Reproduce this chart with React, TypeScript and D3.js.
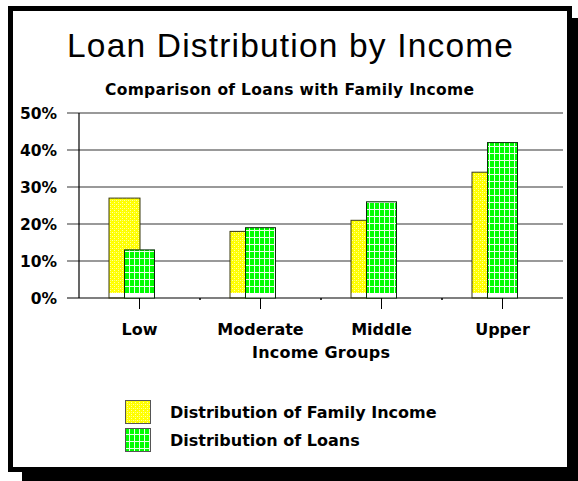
import * as d3 from "d3";

const groups = ["Low", "Moderate", "Middle", "Upper"];
const familyIncome = [27, 18, 21, 34];
const loans = [13, 19, 26, 42];
const yTicks = [0, 10, 20, 30, 40, 50];
const seriesNames = ["Distribution of Family Income", "Distribution of Loans"];

const W = 578, H = 481;
const L = 79, R = 563, T = 113, B = 298;
const FONT = "Arial, 'Liberation Sans', sans-serif";
const BOLD = "'DejaVu Sans', sans-serif";

export default function App() {
  const x = d3.scaleBand(groups, [L, R]);
  const y = d3.scaleLinear([0, 50], [B, T]);
  const mid = (g: string) => (x(g) ?? 0) + x.bandwidth() / 2;

  return (
    <div style={{ position: "fixed", left: 0, top: 0 }}>
      <svg width={W} height={H} style={{ display: "block", background: "#fff" }}>
        <defs>
          <pattern id="yel" width={4} height={4} patternUnits="userSpaceOnUse">
            <rect width={4} height={4} fill="#ffff00" />
            <rect x={0} y={0} width={1} height={1} fill="#ffffa8" />
            <rect x={2} y={2} width={1} height={1} fill="#ffffa8" />
            <rect x={2} y={0} width={1} height={1} fill="#ffff70" />
          </pattern>
          <pattern id="grn" width={5} height={7} patternUnits="userSpaceOnUse">
            <rect width={5} height={7} fill="#00ff00" />
            <rect x={4} y={0} width={1} height={7} fill="#e8ffe8" />
            <rect x={0} y={6} width={5} height={1} fill="#e8ffe8" />
          </pattern>
        </defs>

        {/* frame with drop shadow */}
        <rect x={22} y={18} width={W - 22} height={H - 18} fill="#000" />
        <rect x={10.5} y={8.5} width={559} height={461} fill="#fff" stroke="#000" strokeWidth={5} />

        <text x={290} y={57} textAnchor="middle" fontFamily={FONT} fontSize={33.5}
          textLength={446} lengthAdjust="spacing">Loan Distribution by Income</text>
        <text x={289.5} y={95} textAnchor="middle" fontFamily={BOLD} fontSize={15.5} fontWeight="bold"
          textLength={369} lengthAdjust="spacing">Comparison of Loans with Family Income</text>

        {/* gridlines + y labels */}
        {yTicks.map((t) => (
          <g key={t}>
            <line x1={67} x2={R} y1={y(t)} y2={y(t)} stroke={t === 0 ? "#000" : "#777"}
              strokeWidth={t === 0 ? 1.2 : 1.6} />
            <text x={57} y={y(t) + 6} textAnchor="end" fontFamily={BOLD} fontSize={15.5}
              fontWeight="bold">{t}%</text>
          </g>
        ))}
        <line x1={L} x2={L} y1={T} y2={B} stroke="#000" strokeWidth={1.2} />

        {/* bars */}
        {groups.map((g, i) => {
          const c = mid(g);
          const yf = y(familyIncome[i]);
          const yl = y(loans[i]);
          return (
            <g key={g}>
              <rect x={c - 30.5} y={yf} width={31} height={B - 5 - yf} fill="url(#yel)" />
              <rect x={c - 30.5} y={yf} width={31} height={B - yf} fill="none" stroke="#3a3a10" strokeWidth={1} />
              <rect x={c - 15} y={yl} width={30} height={B - yl} fill="#fff" />
              <rect x={c - 15} y={yl} width={30} height={B - 5 - yl} fill="url(#grn)" />
              <rect x={c - 15} y={yl} width={30} height={B - yl} fill="none" stroke="#0a2a0a" strokeWidth={1} />
            </g>
          );
        })}

        {/* x ticks and labels */}
        {groups.map((g, i) => (
          <g key={g}>
            <line x1={mid(g)} x2={mid(g)} y1={B} y2={B + 11} stroke="#000" strokeWidth={1} />
            {i > 0 && <line x1={x(g)} x2={x(g)} y1={B} y2={B + 2} stroke="#000" strokeWidth={1.5} />}
            <text x={mid(g)} y={335} textAnchor="middle" fontFamily={BOLD} fontSize={16}
              fontWeight="bold">{g}</text>
          </g>
        ))}
        <text x={(L + R) / 2} y={358} textAnchor="middle" fontFamily={BOLD} fontSize={16}
          fontWeight="bold" textLength={138} lengthAdjust="spacing">Income Groups</text>

        {/* legend */}
        {seriesNames.map((s, i) => (
          <g key={s} transform={`translate(125, ${400 + i * 28})`}>
            <rect x={0.5} y={0.5} width={25} height={23} fill={i === 0 ? "url(#yel)" : "url(#grn)"}
              stroke="#555" strokeWidth={1} />
            <text x={45} y={17.5} fontFamily={BOLD} fontSize={16} fontWeight="bold">{s}</text>
          </g>
        ))}
      </svg>
    </div>
  );
}
